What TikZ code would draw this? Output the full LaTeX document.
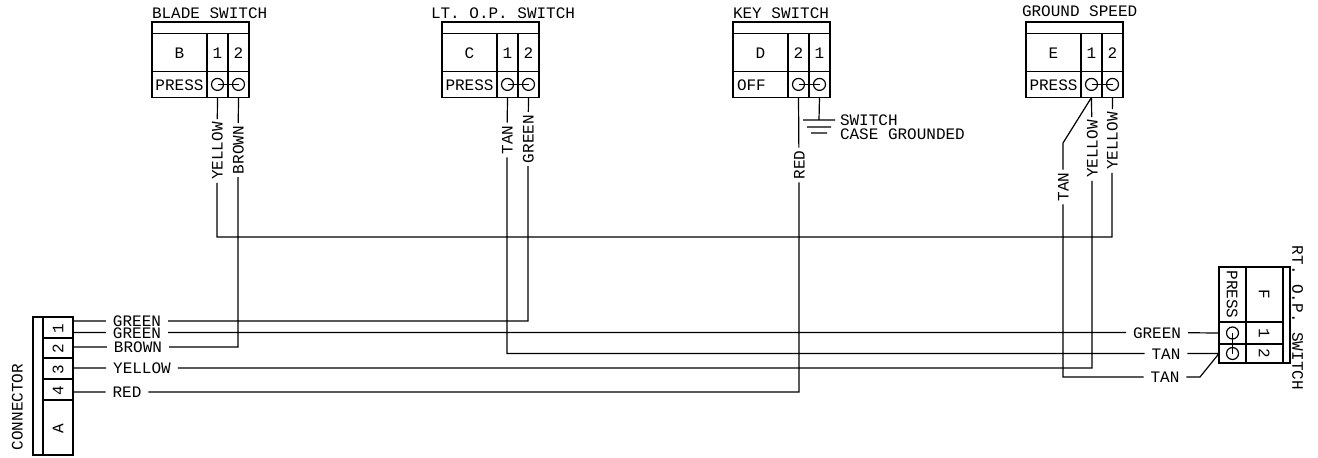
\documentclass[tikz,border=0pt]{standalone}
\usepackage{fontspec}
\newfontfamily\cadfont{Liberation Mono}
\usetikzlibrary{positioning}

\begin{document}
\begin{tikzpicture}[x=1pt,y=-1pt,line width=1.2pt,
    every node/.style={font=\cadfont\fontsize{16}{16}\selectfont,text height=11.4pt,text depth=0pt,inner sep=0pt,outer sep=0pt},
    main cell/.style={rectangle,draw},
    top cell/.style={main cell,minimum width=97pt,minimum height=9pt},
    letter cell/.style={main cell,minimum width=55pt,minimum height=38pt},
    num cell/.style={main cell,minimum width=21pt,minimum height=38pt},
    press cell/.style={main cell,minimum width=55pt,minimum height=26pt},
    pin cell/.style={main cell,minimum width=21pt,minimum height=26pt},
    pin node/.style={circle,draw,minimum size=12pt,text height=0pt},
    wire text/.style={inner xsep=7pt},
    up text/.style={rotate=90,inner xsep=3pt},
    name text/.style={anchor=west}]
    \useasboundingbox (0,0) rectangle (1318,458);

    % switch B
    \node[name text] (Bname) at (152,13) {BLADE SWITCH};
    \node[top cell,anchor=north west] (Btop) at (152,22) {};
    \node[letter cell] (B) [below right=0pt and 0pt of Btop.south west] {B};
    \node[num cell] (Bn1) [right=0pt of B] {1};
    \node[num cell] (Bn2) [right=0pt of Bn1] {2};
    \node[press cell] (Bpress) [below right=0pt and 0pt of B.south west] {PRESS};
    \node[pin cell] (Bp1) [right=0pt of Bpress] {};
    \node[pin cell] (Bp2) [right=0pt of Bp1] {};
    \node[pin node] (Bc1) at (Bp1) {};
    \node[pin node] (Bc2) at (Bp2) {};

    % switch C
    \node[name text] (Cname) at (431,13) {LT. O.P. SWITCH};
    \node[top cell,anchor=north west] (Ctop) at (442,22) {};
    \node[letter cell] (C) [below right=0pt and 0pt of Ctop.south west] {C};
    \node[num cell] (Cn1) [right=0pt of C] {1};
    \node[num cell] (Cn2) [right=0pt of Cn1] {2};
    \node[press cell] (Cpress) [below right=0pt and 0pt of C.south west] {PRESS};
    \node[pin cell] (Cp1) [right=0pt of Cpress] {};
    \node[pin cell] (Cp2) [right=0pt of Cp1] {};
    \node[pin node] (Cc1) at (Cp1) {};
    \node[pin node] (Cc2) at (Cp2) {};

    % switch D
    \node[name text] (Dname) at (733,13) {KEY SWITCH};
    \node[top cell,anchor=north west] (Dtop) at (733,22) {};
    \node[letter cell] (D) [below right=0pt and 0pt of Dtop.south west] {D};
    \node[num cell] (Dn1) [right=0pt of D] {2};
    \node[num cell] (Dn2) [right=0pt of Dn1] {1};
    \node[press cell,text width=47pt,align=left] (Dpress) [below right=0pt and 0pt of D.south west] {OFF};
    \node[pin cell] (Dp1) [right=0pt of Dpress] {};
    \node[pin cell] (Dp2) [right=0pt of Dp1] {};
    \node[pin node] (Dc1) at (Dp1) {};
    \node[pin node] (Dc2) at (Dp2) {};

    % switch E
    \node[name text] (Ename) at (1022,11) {GROUND SPEED};
    \node[top cell,anchor=north west] (Etop) at (1026,22) {};
    \node[letter cell] (E) [below right=0pt and 0pt of Etop.south west] {E};
    \node[num cell] (En1) [right=0pt of E] {1};
    \node[num cell] (En2) [right=0pt of En1] {2};
    \node[press cell] (Epress) [below right=0pt and 0pt of E.south west] {PRESS};
    \node[pin cell] (Ep1) [right=0pt of Epress] {};
    \node[pin cell] (Ep2) [right=0pt of Ep1] {};
    \node[pin node] (Ec1) at (Ep1) {};
    \node[pin node] (Ec2) at (Ep2) {};

    % connector A
    \node[main cell,minimum width=10pt,minimum height=138pt,anchor=north west] (Astrip) at (33,317) {};
    \node[main cell,minimum width=30pt,minimum height=21pt,anchor=north west] (A1) at (43,317) {\rotatebox{90}{1}};
    \node[main cell,minimum width=30pt,minimum height=20pt] (A2) [below=0pt of A1] {\rotatebox{90}{2}};
    \node[main cell,minimum width=30pt,minimum height=21pt] (A3) [below=0pt of A2] {\rotatebox{90}{3}};
    \node[main cell,minimum width=30pt,minimum height=21pt] (A4) [below=0pt of A3] {\rotatebox{90}{4}};
    \node[main cell,minimum width=30pt,minimum height=55pt] (A) [below=0pt of A4] {\rotatebox{90}{A}};
    \node[rotate=90] (Aname) at (17,407) {CONNECTOR};

    % switch F
    \node[main cell,rotate=-90,minimum width=55pt,minimum height=27pt] (Fpress) at (1232.5,294.5) {PRESS};
    \node[main cell,rotate=-90,minimum width=55pt,minimum height=37pt] (F) at (1264.5,294.5) {F};
    \node[main cell,minimum width=7pt,minimum height=96pt,anchor=north west] (Fstrip) at (1283,267) {};
    \node[main cell,minimum width=27pt,minimum height=22pt] (Fp1) at (1232.5,333) {};
    \node[main cell,rotate=-90,minimum width=22pt,minimum height=37pt] (Fn1) at (1264.5,333) {1};
    \node[main cell,minimum width=27pt,minimum height=19pt] (Fp2) at (1232.5,353.5) {};
    \node[main cell,rotate=-90,minimum width=19pt,minimum height=37pt] (Fn2) at (1264.5,353.5) {2};
    \node[pin node] (Fc1) at (Fp1) {};
    \node[pin node] (Fc2) at (Fp2) {};
    \node[rotate=-90] (Fname) at (1298,318) {RT. O.P. SWITCH};

    % wire labels
    \node[up text] (yellowB) at (217,151) {YELLOW};
    \node[up text] (brownB) at (238,150) {BROWN};
    \node[up text] (tanC) at (507,140) {TAN};
    \node[up text] (greenC) at (528,139) {GREEN};
    \node[up text] (redD) at (799,165) {RED};
    \node[up text] (tanE) at (1063,187) {TAN};
    \node[up text] (yellowE1) at (1092,149) {YELLOW};
    \node[up text] (yellowE2) at (1112,141) {YELLOW};

    \node[wire text] (greenA1) at (137,321) {GREEN};
    \node[wire text] (greenA2) at (137,332.5) {GREEN};
    \node[wire text] (brownA) at (138,347) {BROWN};
    \node[wire text] (yellowA) at (142,368) {YELLOW};
    \node[wire text] (redA) at (127,392) {RED};
    \node[wire text] (greenF) at (1157,332.5) {GREEN};
    \node[wire text] (tanF1) at (1166,353.5) {TAN};
    \node[wire text] (tanF2) at (1165,377) {TAN};

    % ground
    \node[] (switchText) [anchor=west] at (840,120) {SWITCH};
    \node[] (caseText) [anchor=west] at (840,134) {CASE GROUNDED};
    \coordinate (gnd) at (819,120);
    \coordinate (gndL) at (803,120);
    \coordinate (gndM) at (807,127);
    \coordinate (gndN) at (831,127);
    \coordinate (gndP) at (811,133);
    \coordinate (gndQ) at (827,133);
    \coordinate (gndR) at (835,120);

    \coordinate (yellowBus) at (217,237);
    \coordinate (tanBend) at (1063,143);
    \coordinate (tanKnee) at (1200,377);

    \draw (Bc1.center) -- (Bc2.center)
        (Cc1.center) -- (Cc2.center)
        (Dc1.center) -- (Dc2.center)
        (Ec1.center) -- (Ec2.center)
        (Fc1.center) -- (Fc2.center);

    \draw (Bp1.south) -- (yellowB)
        (Bp2.south) -- (brownB)
        (Cp1.south) -- (tanC)
        (Cp2.south) -- (greenC)
        (Dp1.south) -- (redD)
        (Ep2.south) -- (yellowE2)
        (Ep1.south) -- (yellowE1)
        (Ep1.south) -- (tanBend) -- (tanE)
        (yellowB) -- (yellowBus) -| (yellowE2)
        (A1.east |- greenA1) -- (greenA1)
        (A1.east |- greenA2) -- (greenA2)
        (A2.east |- brownA) -- (brownA)
        (A3.east |- yellowA) -- (yellowA)
        (A4.east |- redA) -- (redA)
        (greenA1) -| (greenC)
        (greenA2) -- (greenF)
        (brownA) -| (brownB)
        (yellowA) -| (yellowE1)
        (redA) -| (redD)
        (tanC) |- (tanF1)
        (tanE) |- (tanF2)
        (greenF) -- (Fp1.west)
        (tanF1) -- (Fp2.west)
        (tanF2) -- (tanKnee) -- (Fp2.west)
        (Dp2.south) -- (gnd)
        (gndL) -- (gndR)
        (gndM) -- (gndN)
        (gndP) -- (gndQ);
\end{tikzpicture}
\end{document}
